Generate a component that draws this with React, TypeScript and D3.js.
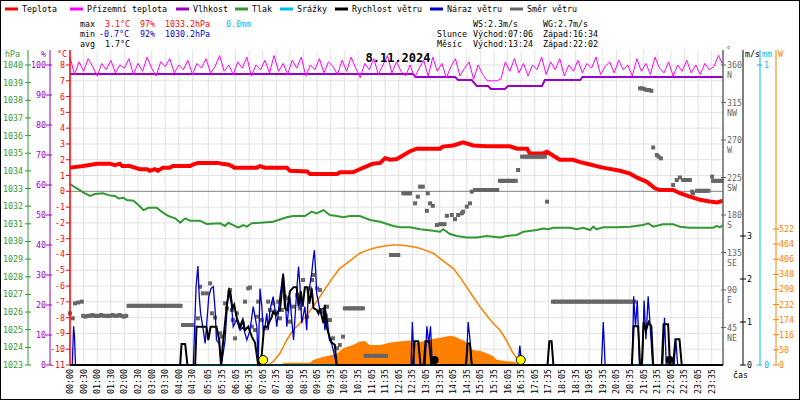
import React from 'react';
import * as d3 from 'd3';

// [minute of day, value]
const temperature: [number, number][] = [
  [0, 1.5], [29, 1.6], [60, 1.75], [88, 1.75], [99, 1.65], [110, 1.75], [115, 1.6], [132, 1.6], [143, 1.5], [154, 1.4],
  [170, 1.4], [176, 1.3], [187, 1.4], [194, 1.3], [205, 1.5], [220, 1.5], [227, 1.6], [265, 1.6], [271, 1.7], [282, 1.8],
  [326, 1.8], [335, 1.75], [348, 1.7], [357, 1.6], [362, 1.5], [412, 1.5], [419, 1.6], [430, 1.5], [478, 1.5], [485, 1.3],
  [523, 1.25], [529, 1.1], [589, 1.1], [595, 1.2], [624, 1.2], [639, 1.4], [655, 1.6], [668, 1.75], [684, 1.8], [695, 2.1],
  [706, 2.0], [721, 2.05], [734, 2.27], [750, 2.54], [765, 2.7], [816, 2.7], [822, 2.83], [845, 2.9], [867, 3.1], [889, 2.9],
  [919, 2.85], [970, 2.85], [986, 2.7], [1008, 2.7], [1014, 2.4], [1043, 2.4], [1052, 2.5], [1065, 2.27], [1080, 2.0], [1109, 2.0],
  [1125, 1.85], [1147, 1.7], [1175, 1.5], [1213, 1.3], [1235, 1.12], [1252, 0.85], [1272, 0.6], [1290, 0.19], [1301, 0.08], [1330, 0.08],
  [1345, -0.12], [1367, -0.33], [1389, -0.54], [1411, -0.65], [1427, -0.7], [1440, -0.6],
];

// apparent temperature, one value every 10 minutes
const apparent = [
  8.5, 7.4, 8.2, 7.6, 8.4, 7.9, 7.3, 8.1, 7.7, 8.3, 7.5, 8.0, 7.8, 8.4, 7.4,
  8.1, 7.6, 8.5, 7.8, 7.3, 8.2, 7.9, 8.4, 7.5, 8.0, 7.7, 8.3, 7.4, 8.1, 7.8,
  8.4, 7.5, 7.9, 8.6, 7.6, 8.0, 7.4, 8.2, 7.8, 8.5, 7.3, 8.0, 7.7, 8.3, 7.5,
  8.6, 7.6, 8.1, 7.4, 8.3, 7.8, 8.5, 7.3, 8.0, 7.7, 8.4, 7.5, 8.2, 7.9, 7.4,
  8.3, 7.6, 8.5, 7.8, 7.2, 8.1, 7.7, 8.4, 7.4, 8.0, 8.6, 7.5, 8.2, 7.6, 7.3,
  8.0, 7.2, 7.8, 8.3, 7.3, 8.5, 7.6, 8.1, 7.2, 7.9, 8.4, 7.3, 7.8, 8.2, 7.1,
  8.0, 7.4, 7.0, 7.0, 7.0, 7.1, 8.2, 7.6, 8.4, 7.5, 8.1, 7.3, 8.0, 7.7, 8.5,
  7.4, 8.2, 7.7, 8.4, 7.3, 8.0, 7.6, 8.3, 7.5, 8.1, 7.8, 8.5, 7.4, 7.9, 8.2,
  7.5, 8.3, 7.7, 8.0, 7.3, 8.4, 7.6, 8.1, 7.4, 8.5, 7.8, 7.5, 8.2, 7.3, 8.0,
  7.6, 8.3, 7.5, 8.0, 7.4, 8.1, 7.7, 7.9, 8.6, 8.0,
];

const humidity: [number, number][] = [
  [0, 97], [756, 97], [763, 96], [849, 96], [856, 95], [886, 95], [897, 93], [922, 93], [928, 92],
  [959, 92], [966, 93], [1041, 93], [1047, 95], [1125, 95], [1130, 96], [1440, 96],
];

const pressure: [number, number][] = [
  [0, 1033.25], [33, 1032.73], [44, 1032.58], [55, 1032.69], [73, 1032.73], [88, 1032.6], [99, 1032.58], [107, 1032.44],
  [118, 1032.48], [125, 1032.35], [140, 1032.31], [151, 1032.07], [162, 1031.78], [173, 1031.91], [191, 1031.91], [202, 1031.69],
  [217, 1031.44], [232, 1031.31], [243, 1031.06], [254, 1031.31], [265, 1031.18], [287, 1031.18], [301, 1030.99], [331, 1031.03],
  [342, 1030.88], [349, 1031.06], [360, 1030.93], [371, 1030.78], [382, 1030.93], [390, 1030.84], [401, 1031.03], [419, 1031.06],
  [448, 1031.12], [478, 1031.37], [492, 1031.44], [518, 1031.44], [533, 1031.69], [544, 1031.59], [559, 1031.78], [573, 1031.5],
  [588, 1031.44], [603, 1031.37], [617, 1031.44], [639, 1031.44], [662, 1031.22], [684, 1031.12], [713, 1030.88], [728, 1030.8],
  [750, 1030.8], [772, 1030.69], [787, 1030.65], [801, 1030.61], [816, 1030.55], [823, 1030.69], [838, 1030.42], [853, 1030.31],
  [875, 1030.23], [897, 1030.23], [919, 1030.31], [948, 1030.23], [963, 1030.31], [985, 1030.37], [1000, 1030.55], [1029, 1030.65],
  [1044, 1030.74], [1055, 1030.69], [1066, 1030.78], [1103, 1030.78], [1117, 1030.69], [1132, 1030.78], [1147, 1030.65], [1154, 1030.84],
  [1161, 1030.69], [1176, 1030.8], [1206, 1030.8], [1235, 1030.84], [1264, 1030.93], [1275, 1031.03], [1286, 1030.84], [1308, 1030.97],
  [1330, 1030.97], [1345, 1030.84], [1367, 1030.78], [1419, 1030.78], [1426, 1030.88], [1433, 1030.8], [1440, 1030.93],
];

const rain: [number, number][] = [[0, 0], [1440, 0]];

const windSpeed: [number, number][] = [
  [0, 0], [243, 0], [246, 0.49], [254, 0.49], [259, 0], [276, 0], [279, 0.89], [301, 0.89], [305, 0.58], [310, 0.89],
  [323, 0.89], [329, 0.58], [333, 0], [338, 0.58], [346, 1.4], [351, 1.74], [354, 1.67], [358, 1.32], [362, 1.4], [368, 1.09],
  [375, 0.89], [381, 1.05], [386, 0.81], [393, 0.89], [401, 0.66], [408, 0.52], [415, 0], [419, 0], [423, 0.27], [428, 0.89],
  [435, 0.89], [440, 1.01], [445, 1.12], [448, 1.24], [454, 1.16], [459, 1.24], [463, 1.28], [467, 1.71], [470, 2.1], [474, 1.32],
  [479, 1.28], [485, 1.71], [493, 1.81], [500, 1.81], [504, 1.36], [509, 1.71], [513, 1.36], [518, 1.81], [523, 1.81], [528, 1.43],
  [533, 1.78], [537, 1.32], [544, 1.28], [548, 1.2], [551, 1.32], [559, 0.97], [562, 1.4], [566, 0.89], [572, 0.66], [577, 0.52],
  [584, 0.47], [588, 0], [756, 0], [760, 0.55], [768, 0.55], [773, 0], [780, 0], [784, 0.55], [792, 0.55], [797, 0],
  [873, 0], [877, 0.5], [882, 0.5], [886, 0], [1053, 0], [1057, 0.55], [1062, 0.55], [1066, 0], [1239, 0], [1243, 0.9],
  [1253, 0.9], [1257, 0], [1261, 0], [1265, 1.0], [1270, 0.8], [1276, 1.0], [1282, 0.9], [1286, 0], [1305, 0], [1309, 0.95],
  [1319, 0.95], [1323, 0], [1330, 0], [1335, 0.6], [1344, 0.6], [1349, 0], [1440, 0],
];

const windGust: [number, number][] = [
  [0, 0], [5, 0], [6, 0.3], [8, 0.9], [10, 0.65], [12, 0], [272, 0], [278, 1.82], [282, 2.3], [285, 1.59],
  [288, 1.2], [294, 0.81], [298, 0.5], [301, 0.89], [306, 1.59], [311, 1.78], [316, 1.82], [320, 1.28], [323, 0.58], [329, 0.5],
  [334, 0], [342, 0.58], [349, 1.74], [356, 1.43], [360, 0.89], [367, 1.05], [375, 0.81], [382, 0.89], [390, 0.58], [397, 0.81],
  [401, 1.12], [404, 1.36], [412, 0.89], [415, 0.04], [419, 1.78], [423, 1.36], [426, 0.81], [430, 0.89], [434, 1.2], [437, 0.81],
  [441, 1.28], [448, 1.59], [452, 1.28], [456, 0.89], [463, 1.59], [467, 1.9], [470, 2.13], [474, 1.74], [478, 0.89], [485, 1.59],
  [489, 1.05], [493, 0.58], [500, 1.74], [504, 2.29], [507, 1.86], [511, 0.97], [518, 1.36], [522, 0.81], [525, 1.59], [529, 1.86],
  [533, 2.13], [536, 2.44], [539, 2.67], [542, 2.13], [544, 1.67], [551, 1.28], [559, 1.32], [562, 0.81], [566, 1.2], [572, 0.58],
  [577, 0.5], [584, 0.19], [588, 0], [752, 0], [755, 1.0], [759, 0], [783, 0], [787, 0.9], [791, 0.5], [795, 0.9],
  [799, 0], [874, 0], [878, 1.0], [882, 0.6], [886, 0], [988, 0], [992, 0.45], [996, 0], [1172, 0], [1176, 1.0],
  [1180, 0], [1240, 0], [1243, 1.6], [1247, 0.9], [1251, 1.5], [1256, 0], [1262, 0], [1266, 1.5], [1270, 0.6], [1275, 1.6],
  [1280, 0.8], [1285, 0], [1307, 0], [1311, 1.1], [1315, 0], [1332, 0], [1336, 0.6], [1340, 0], [1440, 0],
];

const windDir: [number, number][] = [
  [0, 62], [6, 56], [11, 74], [18, 75], [26, 76],
  [29, 59], [34, 58], [39, 59], [44, 59], [49, 60], [54, 59], [59, 59], [64, 59], [69, 60], [74, 59], [79, 59], [84, 59],
  [89, 59], [94, 60], [99, 59], [104, 59], [109, 60], [114, 59], [119, 58], [124, 59],
  [129, 71], [134, 71], [139, 71], [144, 71], [149, 71], [154, 71], [159, 71], [164, 71], [169, 71], [174, 71], [179, 71],
  [184, 71], [189, 71], [194, 71], [199, 71], [204, 71], [209, 71], [214, 71], [219, 71], [224, 71], [229, 71], [234, 71],
  [239, 71], [244, 71], [249, 48], [254, 48], [259, 48], [264, 48], [269, 48],
  [282, 56], [287, 94], [293, 86], [302, 86], [309, 98], [313, 62], [320, 57], [331, 38], [335, 34], [342, 74], [346, 68],
  [353, 90], [357, 66], [359, 54], [364, 32], [368, 62], [375, 46], [381, 50], [386, 76], [393, 92], [397, 93], [401, 46],
  [408, 42], [412, 58], [415, 76], [423, 54], [430, 44], [437, 76], [441, 66], [448, 74], [452, 64], [459, 76], [463, 56],
  [467, 66], [474, 82], [478, 80], [485, 52], [492, 70], [501, 84], [507, 68], [514, 102], [523, 58], [529, 92], [534, 102],
  [536, 108], [545, 92], [551, 90], [558, 64], [567, 70], [573, 54], [580, 32], [589, 20], [595, 24], [602, 34],
  [606, 68], [611, 68], [616, 68], [621, 68], [626, 68], [631, 68], [636, 68], [641, 68], [646, 68],
  [652, 11], [657, 11], [663, 11], [670, 11], [676, 11], [683, 11], [690, 11], [697, 11],
  [708, 132], [713, 132], [718, 132], [724, 132],
  [735, 206], [740, 206], [745, 206], [750, 206], [761, 194], [767, 202], [772, 214], [778, 214], [787, 185], [789, 206],
  [794, 194], [800, 191], [809, 168], [816, 169], [821, 169], [826, 169], [831, 179], [842, 180], [849, 175], [856, 180],
  [864, 182], [867, 184], [875, 190], [882, 194], [886, 208],
  [893, 210], [898, 210], [903, 210], [908, 210], [913, 210], [918, 210], [923, 210], [928, 210], [933, 210], [938, 210], [942, 210],
  [948, 221], [953, 221], [958, 221], [963, 221], [968, 221], [973, 221], [978, 221], [983, 221], [988, 234],
  [997, 250], [1002, 250], [1007, 250], [1012, 250], [1017, 250], [1022, 250], [1027, 250], [1032, 250], [1037, 250],
  [1042, 250], [1047, 250], [1052, 196],
  [1065, 76], [1070, 76], [1075, 76], [1080, 76], [1085, 76], [1090, 76], [1095, 76], [1100, 76], [1105, 76], [1110, 76],
  [1115, 76], [1120, 76], [1125, 76], [1130, 76], [1135, 76], [1140, 76], [1145, 76], [1150, 76], [1155, 76], [1160, 76],
  [1165, 76], [1170, 76], [1175, 76], [1180, 76], [1185, 76], [1190, 76], [1195, 76], [1200, 76], [1205, 76], [1210, 76],
  [1215, 76], [1220, 76], [1225, 76], [1230, 76], [1235, 76], [1240, 76], [1245, 76],
  [1257, 332], [1262, 332], [1267, 331], [1272, 330], [1277, 330], [1282, 329],
  [1286, 261], [1294, 252], [1298, 250], [1303, 248], [1330, 216], [1338, 222], [1345, 225], [1352, 222], [1357, 222],
  [1362, 222], [1367, 222], [1372, 208], [1374, 206], [1383, 209], [1388, 209], [1393, 209], [1398, 209], [1403, 209],
  [1408, 209], [1416, 226], [1418, 221], [1423, 221], [1428, 221], [1433, 221], [1438, 221],
];

const solar: [number, number][] = [
  [463, 0], [466, 4], [474, 9], [529, 9], [536, 19], [559, 32], [588, 42], [602, 64], [624, 77], [639, 90], [650, 92],
  [661, 77], [684, 77], [706, 86], [728, 90], [750, 95], [756, 80], [772, 88], [794, 98], [816, 105], [838, 112],
  [849, 108], [860, 100], [871, 92], [882, 62], [893, 56], [904, 55], [919, 45], [933, 35], [941, 20], [959, 15],
  [981, 12], [988, 0],
];

const solarMax: [number, number][] = [
  [437, 0], [448, 13], [463, 45], [478, 96], [492, 134], [507, 160], [522, 192], [536, 224], [551, 262], [566, 301],
  [581, 339], [595, 371], [610, 390], [625, 410], [639, 429], [654, 439], [669, 448], [684, 454], [698, 458], [713, 461],
  [727, 461], [742, 458], [756, 454], [771, 448], [786, 439], [801, 429], [815, 410], [830, 390], [845, 371], [859, 339],
  [874, 301], [889, 262], [904, 224], [918, 192], [933, 160], [948, 134], [962, 96], [977, 45], [992, 13], [1003, 0],
];

const sunEvents = ['07:06', '16:34'];
const moonEvents = ['13:24', '22:02'];

const timeLabels = [
  '00:00', '00:30', '01:00', '01:30', '02:00', '02:30', '03:00', '03:30', '04:00', '04:30',
  '05:05', '05:35', '06:05', '06:35', '07:05', '07:35', '08:05', '08:35', '09:05', '09:35',
  '10:05', '10:35', '11:05', '11:35', '12:05', '12:35', '13:05', '13:35', '14:05', '14:35',
  '15:05', '15:35', '16:05', '16:35', '17:05', '17:35', '18:05', '18:35', '19:05', '19:35',
  '20:05', '20:35', '21:05', '21:35', '22:05', '22:35', '23:05', '23:35',
];

const pressureTicks = d3.range(1023, 1041);
const humidityTicks = d3.range(0, 101, 10);
const tempTicks = d3.range(-11, 9);
const dirTicks = [45, 90, 135, 180, 225, 270, 315, 360];
const dirNames = ['NE', 'E', 'SE', 'S', 'SW', 'W', 'NW', 'N'];
const speedTicks = [0, 1, 2, 3];
const rainTicks = [0, 1];
const solarTicks = [0, 58, 116, 174, 232, 290, 348, 406, 464, 522];

const legendNames = ['Teplota', 'Přízemní teplota', 'Vlhkost', 'Tlak', 'Srážky', 'Rychlost větru', 'Náraz větru', 'Směr větru'];
const legendColors = ['#ff0000', '#ff00ff', '#9900cc', '#339933', '#00bbee', '#000000', '#0000cc', '#666666'];
const legendX = [5, 70, 176, 235, 280, 335, 430, 510];

const FONT = '"DejaVu Sans Mono", monospace';
const toMin = (s: string) => {
  const [h, m] = s.split(':').map(Number);
  return h * 60 + m;
};

export default function App() {
  const x = d3.scaleLinear().domain([0, 1440]).range([70, 723]);
  const yT = d3.scaleLinear().domain([-11, 8]).range([365, 65]);
  const yP = d3.scaleLinear().domain([1023, 1040]).range([365, 65]);
  const yH = d3.scaleLinear().domain([0, 100]).range([365, 65]);
  const yD = d3.scaleLinear().domain([0, 360]).range([365, 65]);
  const yV = d3.scaleLinear().domain([0, 3]).range([365, 236]);
  const yR = d3.scaleLinear().domain([0, 1]).range([365, 65]);
  const yS = d3.scaleLinear().domain([0, 522]).range([365, 229]);

  const line = (y: d3.ScaleLinear<number, number>) =>
    d3.line<[number, number]>().x(d => x(d[0])).y(d => y(d[1]));

  const apparentPts: [number, number][] = apparent.map((v, i) => [i * 10, v]);
  const solarArea = d3.area<[number, number]>().x(d => x(d[0])).y0(yS(0)).y1(d => yS(d[1]));

  const top = 50, bottom = 365, left = 70, right = 723;

  return (
    <div>
      <style>{`body{margin:0}`}</style>
      <svg width={800} height={400} style={{ display: 'block', background: '#fff' }} fontFamily={FONT} fontSize={8.3}>
        <rect x={0.5} y={0.5} width={799} height={399} fill="#fff" stroke="#000" />

        {/* legend */}
        {legendNames.map((n, i) => (
          <g key={n}>
            <line x1={legendX[i]} x2={legendX[i] + 13} y1={9} y2={9} stroke={legendColors[i]} strokeWidth={3} />
            <text x={legendX[i] + 17} y={12} fill="#000">{n}</text>
          </g>
        ))}

        {/* stats */}
        <text x={80} y={27}>max</text>
        <text x={105} y={27} fill="#ff0000">3.1°C</text>
        <text x={140} y={27} fill="#ff0000">97%</text>
        <text x={165} y={27} fill="#ff0000">1033.2hPa</text>
        <text x={226} y={27} fill="#00bbee">0.0mm</text>
        <text x={80} y={37}>min</text>
        <text x={99} y={37} fill="#0000cc">-0.7°C</text>
        <text x={140} y={37} fill="#0000cc">92%</text>
        <text x={165} y={37} fill="#0000cc">1030.2hPa</text>
        <text x={80} y={47}>avg</text>
        <text x={105} y={47}>1.7°C</text>

        <text x={473} y={27}>WS:2.3m/s</text>
        <text x={543} y={27}>WG:2.7m/s</text>
        <text x={437} y={37}>Slunce</text>
        <text x={473} y={37}>Východ:07:06</text>
        <text x={543} y={37}>Západ:16:34</text>
        <text x={437} y={47}>Měsíc</text>
        <text x={473} y={47}>Východ:13:24</text>
        <text x={543} y={47}>Západ:22:02</text>

        {/* grid */}
        {timeLabels.map(t => (
          <line key={'g' + t} x1={x(toMin(t))} x2={x(toMin(t))} y1={top} y2={bottom} stroke="#e2e2e2" />
        ))}
        {tempTicks.map(t => (
          <line key={'h' + t} x1={left} x2={right} y1={yT(t)} y2={yT(t)} stroke={t === 0 ? '#808080' : '#e2e2e2'} />
        ))}

        {/* solar */}
        <path d={solarArea(solar) ?? ''} fill="#ff8000" />
        <path d={line(yS)(solarMax) ?? ''} fill="none" stroke="#ff8000" strokeWidth={1.5} />

        {/* humidity, apparent temp, pressure, temperature */}
        <path d={line(yH)(humidity) ?? ''} fill="none" stroke="#9900cc" strokeWidth={2} />
        <path d={line(yT)(apparentPts) ?? ''} fill="none" stroke="#ff00ff" strokeWidth={1} />
        <path d={line(yP)(pressure) ?? ''} fill="none" stroke="#339933" strokeWidth={2} />
        <path d={line(yT)(temperature) ?? ''} fill="none" stroke="#ff0000" strokeWidth={4} />

        {/* wind direction */}
        {windDir.map((d, i) => (
          <rect key={'d' + i} x={x(d[0]) - 2} y={yD(d[1]) - 2} width={4} height={4} fill="#666666" />
        ))}

        {/* rain, gust, speed */}
        <path d={line(yR)(rain) ?? ''} fill="none" stroke="#00bbee" strokeWidth={2} />
        <path d={line(yV)(windGust) ?? ''} fill="none" stroke="#0000cc" strokeWidth={1.3} />
        <path d={line(yV)(windSpeed) ?? ''} fill="none" stroke="#000" strokeWidth={2} />

        {sunEvents.map(s => (
          <circle key={s} cx={x(toMin(s))} cy={bottom - 5} r={4.5} fill="#ffff00" stroke="#000" />
        ))}
        {moonEvents.map(s => (
          <circle key={s} cx={x(toMin(s))} cy={bottom - 5} r={4} fill="#000" />
        ))}

        {/* title */}
        <text x={398} y={62} textAnchor="middle" fontSize={12} fontWeight="bold">8.11.2024</text>

        {/* left axes */}
        <line x1={28} x2={28} y1={top} y2={bottom} stroke="#339933" />
        <text x={5} y={57} fill="#339933">hPa</text>
        {pressureTicks.map(p => (
          <g key={'p' + p}>
            <line x1={25} x2={31} y1={yP(p)} y2={yP(p)} stroke="#339933" />
            <text x={23} y={yP(p) + 3} textAnchor="end" fill="#339933">{p}</text>
          </g>
        ))}
        <line x1={50} x2={50} y1={top} y2={bottom} stroke="#9900cc" />
        <text x={41} y={57} fill="#9900cc">%</text>
        {humidityTicks.map(h => (
          <g key={'u' + h}>
            <line x1={46} x2={52} y1={yH(h)} y2={yH(h)} stroke="#9900cc" />
            <text x={46} y={yH(h) + 3} textAnchor="end" fill="#9900cc">{h}</text>
          </g>
        ))}
        <line x1={70} x2={70} y1={top} y2={bottom} stroke="#ff0000" strokeWidth={1.5} />
        <text x={57} y={57} fill="#ff0000">°C</text>
        {tempTicks.map(t => (
          <g key={'t' + t}>
            <line x1={66} x2={70} y1={yT(t)} y2={yT(t)} stroke="#ff0000" />
            <text x={65} y={yT(t) + 3} textAnchor="end" fill="#ff0000">{t}</text>
          </g>
        ))}

        {/* right axes */}
        <line x1={723} x2={723} y1={top} y2={bottom} stroke="#666666" strokeWidth={1.5} />
        <text x={726} y={53} fill="#666666">°</text>
        {dirTicks.map((d, i) => (
          <g key={'w' + d}>
            <line x1={721} x2={726} y1={yD(d)} y2={yD(d)} stroke="#666666" />
            <text x={727} y={yD(d) + 3} fill="#666666">{d}</text>
            <text x={727} y={yD(d) + 13} fill="#666666">{dirNames[i]}</text>
          </g>
        ))}
        <line x1={743} x2={743} y1={top} y2={bottom} stroke="#000" />
        <text x={745} y={57} fill="#000">m/s</text>
        {speedTicks.map(s => (
          <g key={'s' + s}>
            <line x1={740} x2={746} y1={yV(s)} y2={yV(s)} stroke="#000" />
            <text x={747} y={yV(s) + 3} fill="#000">{s}</text>
          </g>
        ))}
        <line x1={760} x2={760} y1={top} y2={bottom} stroke="#00bbee" />
        <text x={762} y={57} fill="#00bbee">mm</text>
        {rainTicks.map(r => (
          <g key={'r' + r}>
            <line x1={757} x2={762} y1={yR(r)} y2={yR(r)} stroke="#00bbee" />
            <text x={764} y={yR(r) + 3} fill="#00bbee">{r}</text>
          </g>
        ))}
        <line x1={776} x2={776} y1={top} y2={bottom} stroke="#ff8000" />
        <text x={778} y={57} fill="#ff8000">W</text>
        {solarTicks.map(s => (
          <g key={'o' + s}>
            <line x1={773} x2={779} y1={yS(s)} y2={yS(s)} stroke="#ff8000" />
            <text x={779} y={yS(s) + 3} fill="#ff8000">{s}</text>
          </g>
        ))}

        {/* time axis */}
        <line x1={left} x2={right} y1={bottom} y2={bottom} stroke="#000" strokeWidth={1.5} />
        {timeLabels.map(t => (
          <text key={'l' + t} transform={`translate(${x(toMin(t)) + 3},394) rotate(-90)`} fill="#000">{t}</text>
        ))}
        <text x={733} y={378} fill="#000">čas</text>
      </svg>
    </div>
  );
}
